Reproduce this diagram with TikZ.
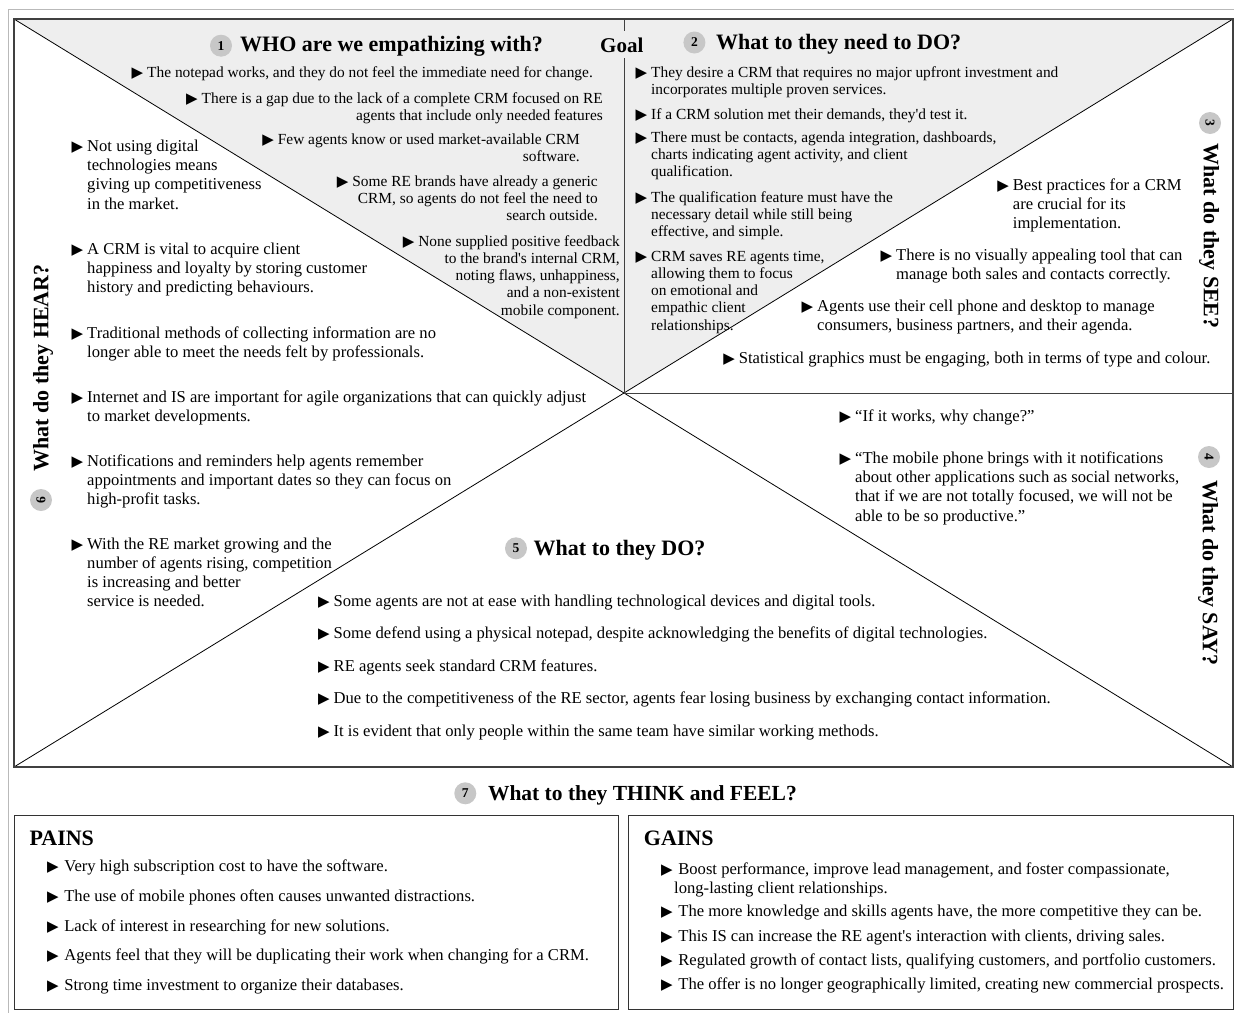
\documentclass[tikz,border=0pt]{standalone}
\usepackage{fontspec}
\setmainfont{Liberation Serif}[Ligatures=TeXOff]
\newfontfamily\symfont{DejaVu Sans}
\newcommand\tri{{\symfont\fontsize{15}{15}\selectfont ▶}}
\newcommand\bl[1][4pt]{\llap{\tri\hspace{#1}}}
\definecolor{shadecol}{gray}{0.935}
\definecolor{circcol}{gray}{0.78}
\tikzset{
  hd/.style={font=\fontsize{22}{26}\selectfont\bfseries, inner sep=0, anchor=base west},
  vhd/.style={font=\fontsize{22}{26}\selectfont\bfseries, inner sep=0, anchor=center},
  numc/.style={circle, fill=circcol, minimum size=22pt, inner sep=0, font=\fontsize{13.5}{13.5}\selectfont\bfseries},
  tA/.style={font=\fontsize{15.4}{17.3}\selectfont, inner sep=0, align=left, anchor=base west},
  tAr/.style={font=\fontsize{15.4}{17.3}\selectfont, inner sep=0, align=right, anchor=base east},
  tB/.style={font=\fontsize{16.6}{19.2}\selectfont, inner sep=0, align=left, anchor=base west},
  diag/.style={draw=black, line width=0.8pt},
  frame/.style={draw=black!75, line width=1.2pt},
  boxline/.style={draw=black!80, line width=1pt},
}
\begin{document}
\begin{tikzpicture}[x=1pt,y=-1pt]
\useasboundingbox (0,0) rectangle (1234,1012);
% outer frame
\draw[gray!55, line width=1pt] (8,1020) -- (8,9) -- (1240,9);
% shaded top triangle
\fill[shadecol] (14,19) -- (1233,19) -- (624,393) -- cycle;
\coordinate (C) at (624,393);
\coordinate (TL) at (14,19);
\coordinate (TR) at (1233,19);
\coordinate (BL) at (14,767);
\coordinate (BR) at (1233,767);
\draw[diag] (TL) -- (C) -- (TR);
\draw[diag] (BL) -- (C) -- (BR);
\draw[frame, line width=1pt] (624,19) -- (C) -- (1233,393);
\draw[frame] (TL) rectangle (BR);
% bottom boxes
\draw[boxline] (14,815) rectangle (618.5,1009);
\draw[boxline] (628,815) rectangle (1233,1009);

% ---- section 1  (node base = baseline of last line)
\node[numc] (n1) at (221,45.7) {1};
\node[hd] (t1) at (240,51.7) {WHO are we empathizing with?};
\node[hd, fill=shadecol, inner ysep=6pt, font=\fontsize{21}{26}\selectfont\bfseries] (goal) at (600,52) {Goal};
\node[tAr] (w1) at (593,77) {\bl The notepad works, and they do not feel the immediate need for change.};
\node[tAr] (w2) at (603,120.3) {\bl There is a gap due to the lack of a complete CRM focused on RE\\agents that include only needed features};
\node[tAr] (w3) at (580,161.3) {\bl Few agents know or used market-available CRM\\software.};
\node[tAr] (w4) at (598,220.6) {\bl Some RE brands have already a generic\\CRM, so agents do not feel the need to\\search outside.};
\node[tAr] (w5) at (620,315.2) {\bl None supplied positive feedback\\to the brand's internal CRM,\\noting flaws, unhappiness,\\and a non-existent\\mobile component.};

% ---- section 2
\node[numc] (n2) at (694.4,42.5) {2};
\node[hd] (t2) at (716,49) {What to they need to DO?};
\node[tA] (d1) at (651,94.3) {\bl They desire a CRM that requires no major upfront investment and\\incorporates multiple proven services.};
\node[tA] (d2) at (651,119) {\bl If a CRM solution met their demands, they'd test it.};
\node[tA] (d3) at (651,176.6) {\bl There must be contacts, agenda integration, dashboards,\\charts indicating agent activity, and client\\qualification.};
\node[tA] (d4) at (651,236.6) {\bl The qualification feature must have the\\necessary detail while still being\\effective, and simple.};
\node[tA] (d5) at (651,330.2) {\bl CRM saves RE agents time,\\allowing them to focus\\on emotional and\\empathic client\\relationships.};

% ---- section 3 SEE
\node[numc, rotate=-90] (n3) at (1210,123) {3};
\node[vhd, rotate=-90] (t3) at (1209,236) {What do they SEE?};
\node[tB] (s1) at (1012.7,228.4) {\bl Best practices for a CRM\\are crucial for its\\implementation.};
\node[tB] (s2) at (896,279.2) {\bl There is no visually appealing tool that can\\manage both sales and contacts correctly.};
\node[tB] (s3) at (817,330.7) {\bl Agents use their cell phone and desktop to manage\\consumers, business partners, and their agenda.};
\node[tB] (s4) at (738.6,363.5) {\bl Statistical graphics must be engaging, both in terms of type and colour.};

% ---- section 4 SAY
\node[numc, rotate=-90] (n4) at (1209,457) {4};
\node[vhd, rotate=-90] (t4) at (1208,573) {What do they SAY?};
\node[tB] (y1) at (855,421) {\bl “If it works, why change?”};
\node[tB] (y2) at (855,521.1) {\bl “The mobile phone brings with it notifications\\about other applications such as social networks,\\that if we are not totally focused, we will not be\\able to be so productive.”};

% ---- section 5 DO
\node[numc] (n5) at (516,548.3) {5};
\node[hd] (t5) at (533.5,555) {What to they DO?};
\node[tB] (o1) at (333.5,606) {\bl Some agents are not at ease with handling technological devices and digital tools.};
\node[tB] (o2) at (333.5,638) {\bl Some defend using a physical notepad, despite acknowledging the benefits of digital technologies.};
\node[tB] (o3) at (333.5,671) {\bl RE agents seek standard CRM features.};
\node[tB] (o4) at (333.5,703) {\bl Due to the competitiveness of the RE sector, agents fear losing business by exchanging contact information.};
\node[tB] (o5) at (333.5,736) {\bl It is evident that only people within the same team have similar working methods.};

% ---- section 6 HEAR
\node[numc, rotate=90] (n6) at (41,500) {6};
\node[vhd, rotate=90] (t6) at (43,368) {What do they HEAR?};
\node[tB] (h1) at (87,209.1) {\bl Not using digital\\technologies means\\giving up competitiveness\\in the market.};
\node[tB] (h2) at (87,292.4) {\bl A CRM is vital to acquire client\\happiness and loyalty by storing customer\\history and predicting behaviours.};
\node[tB] (h3) at (87,357.2) {\bl Traditional methods of collecting information are no\\longer able to meet the needs felt by professionals.};
\node[tB] (h4) at (87,421.2) {\bl Internet and IS are important for agile organizations that can quickly adjust\\to market developments.};
\node[tB] (h5) at (87,504.4) {\bl Notifications and reminders help agents remember\\appointments and important dates so they can focus on\\high-profit tasks.};
\node[tB] (h6) at (87,606.6) {\bl With the RE market growing and the\\number of agents rising, competition\\is increasing and better\\service is needed.};

% ---- section 7
\node[numc] (n7) at (465.3,793.3) {7};
\node[hd, font=\fontsize{21.5}{26}\selectfont\bfseries] (t7) at (487.8,800) {What to they THINK and FEEL?};
\node[hd] (pains) at (29.4,845) {PAINS};
\node[tB] (p1) at (60,871.5) {\bl[1.5pt] Very high subscription cost to have the software.};
\node[tB] (p2) at (60,901) {\bl[1.5pt] The use of mobile phones often causes unwanted distractions.};
\node[tB] (p3) at (60,931) {\bl[1.5pt] Lack of interest in researching for new solutions.};
\node[tB] (p4) at (60,960) {\bl[1.5pt] Agents feel that they will be duplicating their work when changing for a CRM.};
\node[tB] (p5) at (60,990) {\bl[1.5pt] Strong time investment to organize their databases.};
\node[hd] (gains) at (643.7,845) {GAINS};
\node[tB] (g1) at (674,893.2) {\bl[1.5pt] Boost performance, improve lead management, and foster compassionate,\\long-lasting client relationships.};
\node[tB] (g2) at (674,916.5) {\bl[1.5pt] The more knowledge and skills agents have, the more competitive they can be.};
\node[tB] (g3) at (674,941.5) {\bl[1.5pt] This IS can increase the RE agent's interaction with clients, driving sales.};
\node[tB] (g4) at (674,965) {\bl[1.5pt] Regulated growth of contact lists, qualifying customers, and portfolio customers.};
\node[tB] (g5) at (674,989) {\bl[1.5pt] The offer is no longer geographically limited, creating new commercial prospects.};
\end{tikzpicture}
\end{document}
